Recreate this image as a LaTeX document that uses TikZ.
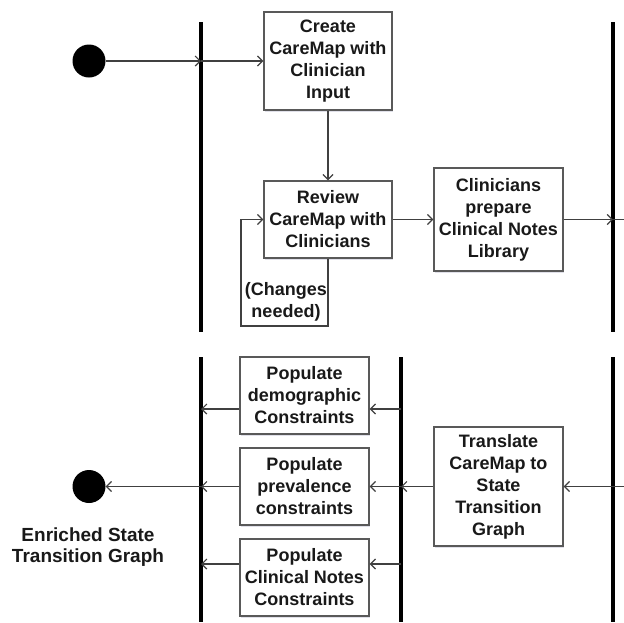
\documentclass[tikz,border=0pt]{standalone}
\usepackage{fontspec}
\setmainfont{Liberation Sans}
\usetikzlibrary{arrows.meta,shadows}

\tikzset{
  act/.style={draw=black!65, line width=1.4pt, fill=white, align=center,
    inner sep=0pt, minimum width=128pt, text=black!90,
    font=\bfseries\fontsize{18}{22}\selectfont,
    drop shadow={shadow xshift=1pt, shadow yshift=-1.5pt, fill=blue!30!black, opacity=0.12}},
  lbl/.style={align=center, inner sep=0pt, text=black!90,
    font=\bfseries\fontsize{18}{22}\selectfont},
  flow/.style={draw=black!75, line width=1.2pt, -{Straight Barb[length=5pt,width=10pt]}},
  link/.style={draw=black!75, line width=1.2pt},
  syncbar/.style={line width=4pt, black},
  dot/.style={circle, fill=black, minimum size=33pt, inner sep=0pt},
}

\begin{document}
\begin{tikzpicture}[x=1pt,y=-1pt]
\useasboundingbox (0,0) rectangle (624,622);

% synchronisation bars
\coordinate (barA) at (201,0);
\coordinate (barM) at (401,0);
\coordinate (barB) at (613,0);
\coordinate (exitA) at (624,0);
\draw[syncbar] (201,22) -- (201,332);
\draw[syncbar] (613,22) -- (613,332);
\draw[syncbar] (201,357) -- (201,622);
\draw[syncbar] (401,357) -- (401,622);
\draw[syncbar] (613,357) -- (613,622);

% top part
\node[dot] (start) at (89,61) {};
\node[act, minimum height=98pt] (create) at (328,61) {Create\\CareMap with\\Clinician\\Input};
\node[act, minimum height=77pt] (review) at (328,219.5) {Review\\CareMap with\\Clinicians};
\node[act, minimum width=129pt, minimum height=103pt] (notes) at (498.5,219.5) {Clinicians\\prepare\\Clinical Notes\\Library};
\coordinate (loopc) at (241,326);
\node[lbl] (changes) at (286,302) {(Changes\\needed)};

\draw[flow] (start) -- (start -| barA);
\draw[flow] (start -| barA) -- (create);
\draw[flow] (create) -- (review);
\draw[flow] (review.south) |- (loopc) |- (review.west);
\draw[flow] (review) -- (notes);
\draw[flow] (notes) -- (notes -| barB);
\draw[link] (notes -| barB) -- (notes -| exitA);

% bottom part
\node[act, minimum width=129pt, minimum height=77pt] (demo) at (304.5,395.5) {Populate\\demographic\\Constraints};
\node[act, minimum width=129pt, minimum height=77pt] (prev) at (304.5,486.5) {Populate\\prevalence\\constraints};
\node[act, minimum width=129pt, minimum height=77pt] (cnotes) at (304.5,577.5) {Populate\\Clinical Notes\\Constraints};
\node[act, minimum width=129pt, minimum height=119pt] (translate) at (498.5,486.5) {Translate\\CareMap to\\State\\Transition\\Graph};
\node[dot] (stop) at (89,486.5) {};
\node[lbl, font=\bfseries\fontsize{19}{21}\selectfont] (result) at (88,547) {Enriched State\\Transition Graph};
\coordinate (exitB) at (624,486.5);

\draw[flow] (exitB) -- (translate);
\draw[flow] (translate) -- (translate -| barM);
\draw[flow] ([yshift=-13.5pt]demo.east -| barM) -- ([yshift=-13.5pt]demo.east);
\draw[flow] (prev -| barM) -- (prev);
\draw[flow] ([yshift=13.5pt]cnotes.east -| barM) -- ([yshift=13.5pt]cnotes.east);
\draw[flow] ([yshift=-13.5pt]demo.west) -- ([yshift=-13.5pt]demo.west -| barA);
\draw[flow] (prev) -- (prev -| barA);
\draw[flow] ([yshift=13.5pt]cnotes.west) -- ([yshift=13.5pt]cnotes.west -| barA);
\draw[flow] (prev -| barA) -- (stop);
\end{tikzpicture}
\end{document}
